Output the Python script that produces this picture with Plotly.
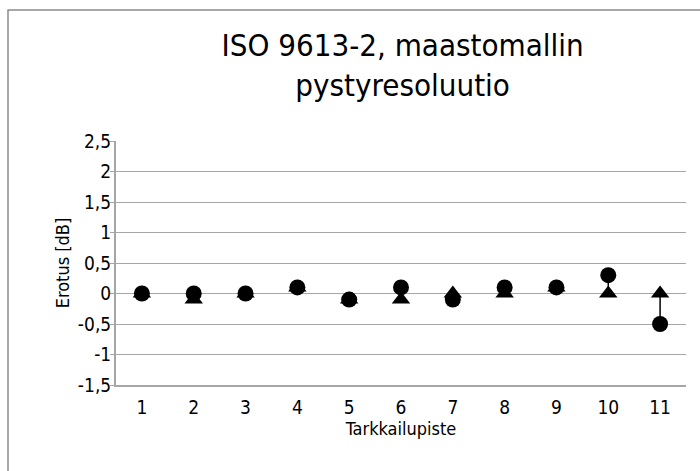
import plotly.graph_objects as go

# Observation points and level differences [dB]
points = [1, 2, 3, 4, 5, 6, 7, 8, 9, 10, 11]
series_triangle = [0.0, -0.1, 0.0, 0.1, -0.1, -0.1, 0.0, 0.0, 0.1, 0.0, 0.0]
series_circle = [0.0, 0.0, 0.0, 0.1, -0.1, 0.1, -0.1, 0.1, 0.1, 0.3, -0.5]

y_ticks = [-1.5, -1.0, -0.5, 0.0, 0.5, 1.0, 1.5, 2.0, 2.5]
y_ticktext = ["-1,5", "-1", "-0,5", "0", "0,5", "1", "1,5", "2", "2,5"]

FONT = "DejaVu Sans Condensed, Liberation Sans Narrow, Arial, sans-serif"
GRID = "#a6a6a6"

W, H = 700, 471
L, R, T, B = 116, 14, 141, 86
pw, ph = W - L - R, H - T - B


def px_x(v):
    return (v - L) / pw


def px_y(v):
    return (H - B - v) / ph


fig = go.Figure()

# high-low lines between the two series
hl_x, hl_y = [], []
for p, a, b in zip(points, series_triangle, series_circle):
    hl_x += [p, p, None]
    hl_y += [a, b, None]
fig.add_trace(go.Scatter(x=hl_x, y=hl_y, mode="lines",
                         line=dict(color="black", width=1.5),
                         hoverinfo="skip", showlegend=False))

fig.add_trace(go.Scatter(x=points, y=series_triangle, mode="markers",
                         marker=dict(symbol="triangle-up", size=16, color="black",
                                     line=dict(width=0)),
                         showlegend=False))
fig.add_trace(go.Scatter(x=points, y=series_circle, mode="markers",
                         marker=dict(symbol="circle", size=16, color="black",
                                     line=dict(width=0)),
                         showlegend=False))

fig.update_layout(
    width=W, height=H,
    margin=dict(l=L, r=R, t=T, b=B),
    paper_bgcolor="white", plot_bgcolor="white",
    font=dict(family=FONT, color="#000000", size=16),
    title=dict(text="ISO 9613-2, maastomallin<br>pystyresoluutio",
               x=352 / W, xref="paper", xanchor="center",
               y=1 - 56 / H, yanchor="middle",
               font=dict(family=FONT, size=31, color="#000000")),
    xaxis=dict(range=[0.5, 11.5], tickvals=points, ticktext=[str(p) for p in points],
               showgrid=False, zeroline=False, showline=True, linecolor=GRID,
               linewidth=2, ticks="", ticklen=0,
               tickfont=dict(family=FONT, size=19),
               ticklabelstandoff=4,
               title=dict(text="Tarkkailupiste", font=dict(family=FONT, size=18),
                          standoff=4)),
    yaxis=dict(range=[-1.5, 2.5], tickvals=y_ticks, ticktext=y_ticktext,
               showgrid=True, gridcolor=GRID, gridwidth=1.3, zeroline=False,
               showline=True, linecolor=GRID, linewidth=2,
               ticks="outside", ticklen=4, tickcolor=GRID,
               tickfont=dict(family=FONT, size=19),
               ticklabelstandoff=-5,
               title=dict(text="Erotus [dB]", font=dict(family=FONT, size=18),
                          standoff=4)),
    shapes=[dict(type="rect", xref="paper", yref="paper",
                 x0=px_x(8), x1=px_x(715), y0=px_y(490), y1=px_y(10),
                 line=dict(color="#8c8c8c", width=1.5), fillcolor="rgba(0,0,0,0)",
                 layer="below")],
)

fig.write_html("out.html")
